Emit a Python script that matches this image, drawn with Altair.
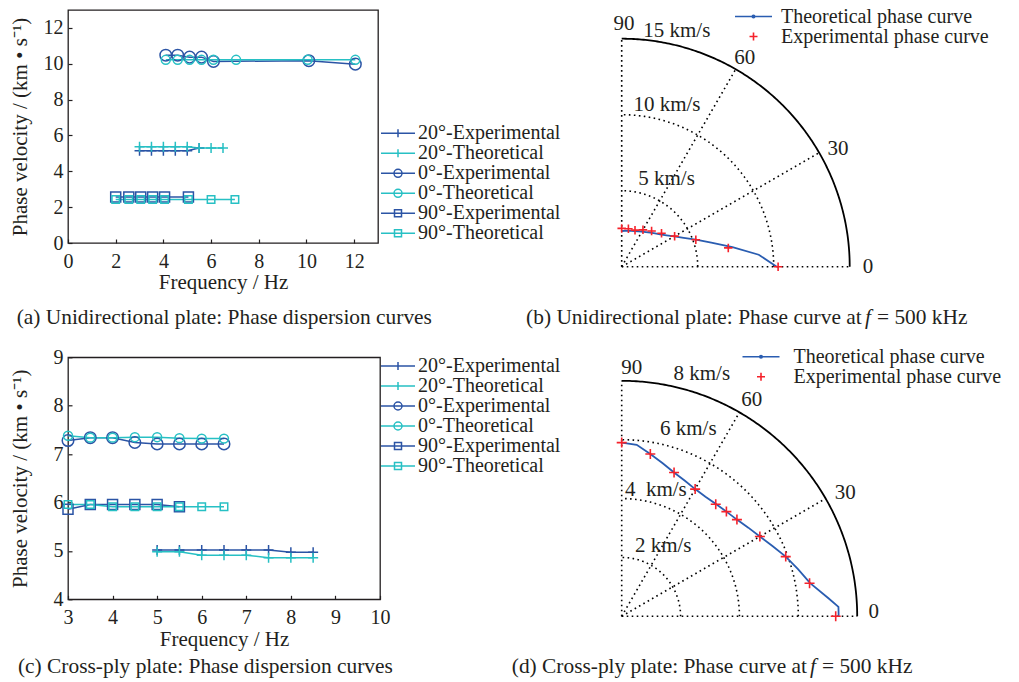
import altair as alt
import pandas as pd

FONT = "Liberation Serif"
TXT = "#231f20"
DARK = "#2b54a5"
CYAN = "#27c0c4"
RED = "#f5222b"
PBLUE = "#2a5db1"

SERIES = ["20°-Experimental", "20°-Theoretical", "0°-Experimental",
          "0°-Theoretical", "90°-Experimental", "90°-Theoretical"]

# ---------------- (a) Unidirectional plate: dispersion ----------------
a_20e_f = [3.0, 3.5, 4.0, 4.5, 5.0, 5.5]
a_20e_v = [5.15, 5.15, 5.15, 5.15, 5.15, 5.3]
a_20t_f = [3.0, 3.5, 4.0, 4.5, 5.0, 5.5, 6.0, 6.5]
a_20t_v = [5.37, 5.37, 5.37, 5.37, 5.37, 5.3, 5.3, 5.3]
a_0e_f = [4.1, 4.6, 5.1, 5.6, 6.1, 10.1, 12.05]
a_0e_v = [10.48, 10.48, 10.37, 10.37, 10.13, 10.17, 9.98]
a_0t_f = [4.1, 4.6, 5.1, 5.6, 6.1, 7.05, 10.05, 12.05]
a_0t_v = [10.22, 10.22, 10.22, 10.22, 10.22, 10.22, 10.22, 10.22]
a_90e_f = [2.0, 2.55, 3.05, 3.55, 4.05, 5.05]
a_90e_v = [2.57, 2.57, 2.57, 2.57, 2.57, 2.57]
a_90t_f = [2.0, 2.55, 3.05, 3.55, 4.05, 5.05, 6.0, 7.0]
a_90t_v = [2.43, 2.43, 2.43, 2.43, 2.43, 2.43, 2.43, 2.43]
a_xticks = [0, 2, 4, 6, 8, 10, 12]
a_yticks = [0, 2, 4, 6, 8, 10, 12]

# ---------------- (c) Cross-ply plate: dispersion ----------------
c_20e_f = [5.0, 5.5, 6.0, 6.5, 7.0, 7.5, 8.0, 8.5]
c_20e_v = [5.02, 5.02, 5.02, 5.02, 5.02, 5.02, 4.97, 4.97]
c_20t_f = [5.0, 5.5, 6.0, 6.5, 7.0, 7.5, 8.0, 8.5]
c_20t_v = [4.98, 4.98, 4.91, 4.91, 4.91, 4.86, 4.86, 4.86]
c_0e_f = [3.0, 3.5, 4.0, 4.5, 5.0, 5.5, 6.0, 6.5]
c_0e_v = [7.28, 7.34, 7.34, 7.24, 7.21, 7.21, 7.21, 7.21]
c_0t_f = [3.0, 3.5, 4.0, 4.5, 5.0, 5.5, 6.0, 6.5]
c_0t_v = [7.38, 7.34, 7.34, 7.35, 7.35, 7.33, 7.32, 7.32]
c_90e_f = [3.0, 3.5, 4.0, 4.5, 5.0, 5.5]
c_90e_v = [5.86, 5.96, 5.96, 5.96, 5.96, 5.91]
c_90t_f = [3.0, 3.5, 4.0, 4.5, 5.0, 5.5, 6.0, 6.5]
c_90t_v = [5.96, 5.96, 5.91, 5.91, 5.91, 5.91, 5.91, 5.91]
c_xticks = [3, 4, 5, 6, 7, 8, 9, 10]
c_yticks = [4, 5, 6, 7, 8, 9]

# ---------------- (b) Unidirectional plate: polar phase curve ----------------
b_theo_t = [0, 5, 10, 15, 20, 25, 30, 35, 40, 45, 50, 55, 60, 65, 70, 75, 80, 85, 90]
b_theo_r = [10.2, 9.05, 7.4, 6.1, 5.2, 4.5, 4.0, 3.6, 3.3, 3.1, 2.92, 2.78, 2.66,
            2.56, 2.49, 2.44, 2.4, 2.37, 2.35]
b_exp_t = [0, 10, 20, 30, 40, 50, 60, 70, 80, 90]
b_exp_r = [10.29, 7.12, 5.19, 4.02, 3.42, 3.06, 2.80, 2.56, 2.54, 2.52]
b_rings = [5, 10]
b_rlab_x = [1.42, 0.77, 1.09]
b_rlab_y = [15.11, 10.23, 5.36]
b_rlab_t = ["15 km/s", "10 km/s", "5 km/s"]
b_alab_x = [0.15, 8.1, 14.23, 16.2]
b_alab_y = [16.0, 13.75, 7.77, 0.0]
b_alab_t = ["90", "60", "30", "0"]

# ---------------- (d) Cross-ply plate: polar phase curve ----------------
d_theo_t = [0, 2.5, 5, 10, 15, 20, 25, 30, 35, 40, 45, 50, 55, 60, 65, 70, 75, 80, 85, 90]
d_theo_r = [7.37, 7.37, 7.05, 6.5, 6.2, 5.93, 5.65, 5.42, 5.25, 5.11, 5.03, 4.98,
            4.96, 4.99, 5.08, 5.2, 5.38, 5.6, 5.85, 5.9]
d_exp_t = [0, 10, 20, 30, 40, 45, 50, 60, 70, 80, 90]
d_exp_r = [7.27, 6.48, 5.93, 5.42, 5.11, 5.03, 4.97, 4.99, 5.20, 5.60, 5.90]
d_rings = [2, 4, 6]
d_rlab_x = [1.76, 1.30, 0.11, 0.45]
d_rlab_y = [8.02, 6.15, 4.08, 2.19]
d_rlab_t = ["8 km/s", "6 km/s", "4\u00a0 km/s", "2 km/s"]
d_alab_x = [0.34, 4.42, 7.59, 8.56]
d_alab_y = [8.45, 7.34, 4.19, 0.15]
d_alab_t = ["90", "60", "30", "0"]

CURVES = ["Theoretical phase curve", "Experimental phase curve"]

# ---------------- styles ----------------
PLUS = "M0,-1V1M-1,0H1"
COLORS = [DARK, CYAN, DARK, CYAN, DARK, CYAN]
MSHAPES = [PLUS, PLUS, "circle", "circle", "square", "square"]
MSIZES = [100, 100, 133, 80, 100, 56]
L_PLUS = "M-3.4,0H3.4M0,-0.8V0.8"
L_CIRC = "M-3.4,0H3.4M-0.8,0A0.8,0.8 0 1,0 0.8,0A0.8,0.8 0 1,0 -0.8,0"
L_SQ = "M-3.4,0H3.4M-0.7,-0.7H0.7V0.7H-0.7Z"
LSHAPES = [L_PLUS, L_PLUS, L_CIRC, L_CIRC, L_SQ, L_SQ]
P_THEO = "M-3.7,0H3.7M-0.25,0A0.25,0.25 0 1,0 0.25,0A0.25,0.25 0 1,0 -0.25,0"
P_EXP = "M0,-0.8V0.8M-0.8,0H0.8"
CAP_FS = 21.4
LEG_FS = 20


def long_df(pairs):
    rows = []
    for s, (fs, vs) in zip(SERIES, pairs):
        for f, v in zip(fs, vs):
            rows.append({"series": s, "f": f, "v": v})
    return pd.DataFrame(rows)


def text_layer(txt, x, y, align="left", style="normal", baseline="alphabetic"):
    return alt.Chart(pd.DataFrame({"t": [txt]})).mark_text(
        font=FONT, fontSize=CAP_FS, color=TXT, align=align, baseline=baseline,
        fontStyle=style).encode(x=alt.value(x), y=alt.value(y), text="t:N")


def dispersion(df, xdom, ydom, xvals, yvals, w, h, caption, cap_x, cap_y, leg_x, leg_y):
    xs = alt.Scale(domain=xdom, nice=False, zero=False)
    ys = alt.Scale(domain=ydom, nice=False, zero=False)
    xax = alt.Axis(values=xvals, title="Frequency / Hz", offset=-4, tickSize=4,
                   domain=False, grid=False, labelPadding=8, format="d",
                   titleX=w / 2, titleY=32.7, titleBaseline="top",
                   labelFlush=False, labelOverlap=False)
    yax = alt.Axis(values=yvals, title="Phase velocity / (km \u2022 s\u207b\u00b9)",
                   offset=-4, tickSize=4, domain=False, grid=False, labelPadding=5,
                   format="d", titleX=-42, titleY=h / 2, titleBaseline="bottom",
                   labelFlush=False, labelOverlap=False)
    X = alt.X("f:Q", scale=xs, axis=xax)
    Y = alt.Y("v:Q", scale=ys, axis=yax)
    base = alt.Chart(df)
    layers = []
    for s, c in zip(SERIES, COLORS):
        layers.append(base.transform_filter(alt.datum.series == s).mark_line(
            strokeWidth=1.5, color=c).encode(X, Y))
    for s, c, shp, sz in zip(SERIES, COLORS, MSHAPES, MSIZES):
        layers.append(base.transform_filter(alt.datum.series == s).mark_point(
            filled=False, shape=shp, size=sz, color=c, strokeWidth=1.5, opacity=1
        ).encode(X, Y))
    leg = alt.Legend(orient="none", legendX=leg_x, legendY=leg_y, title=None,
                     labelFont=FONT, labelFontSize=LEG_FS, labelColor=TXT,
                     symbolSize=100, symbolStrokeWidth=1.5, symbolOpacity=1,
                     rowPadding=0, padding=0, labelOffset=10, labelLimit=400)
    layers.append(base.mark_point(filled=False, opacity=0).encode(
        X, Y,
        color=alt.Color("series:N", scale=alt.Scale(domain=SERIES, range=COLORS), legend=leg),
        shape=alt.Shape("series:N", scale=alt.Scale(domain=SERIES, range=LSHAPES), legend=leg)))
    layers.append(text_layer(caption, cap_x, cap_y))
    return alt.layer(*layers).properties(width=w, height=h)


def polar(theo_t, theo_r, exp_t, exp_r, R, W, H, rings, rlx, rly, rlt, alx, aly, alt_t,
          cap1, cap1_x, f_x, cap3_x, cap_y, leg_x, leg_y, leg_off, plus_size):
    ymax = R * H / W
    xs = alt.Scale(domain=[0, R], nice=False, zero=False)
    ys = alt.Scale(domain=[0, ymax], nice=False, zero=False)

    def X(f):
        return alt.X(f, type="quantitative", scale=xs, axis=None)

    def Y(f):
        return alt.Y(f, type="quantitative", scale=ys, axis=None)

    rad = "PI/180"
    dots = dict(color="black", strokeWidth=1.6, strokeDash=[1.6, 3.4], strokeCap="butt")

    def arc_chart(radii):
        return (alt.Chart(pd.DataFrame({"ring": radii}))
                .transform_calculate(t="sequence(0, 90.25, 0.5)")
                .transform_flatten(["t"])
                .transform_calculate(px=f"datum.ring*cos(datum.t*{rad})",
                                     py=f"datum.ring*sin(datum.t*{rad})"))

    rings_l = arc_chart(rings).mark_line(**dots).encode(X("px"), Y("py"), detail="ring:N", order="t:Q")
    outer = arc_chart([R]).mark_line(color="black", strokeWidth=1.8).encode(
        X("px"), Y("py"), detail="ring:N", order="t:Q")
    spokes = (alt.Chart(pd.DataFrame({"ang": [0, 30, 60, 90]}))
              .transform_calculate(x0="0", y0="0",
                                   x1=f"{R}*cos(datum.ang*{rad})",
                                   y1=f"{R}*sin(datum.ang*{rad})")
              .mark_rule(**dots)
              .encode(X("x0"), Y("y0"), x2="x1:Q", y2="y1:Q"))

    cdf = pd.concat([
        pd.DataFrame({"theta": theo_t, "r": theo_r, "curve": CURVES[0]}),
        pd.DataFrame({"theta": exp_t, "r": exp_r, "curve": CURVES[1]}),
    ], ignore_index=True)
    cbase = alt.Chart(cdf).transform_calculate(
        px=f"datum.r*cos(datum.theta*{rad})", py=f"datum.r*sin(datum.theta*{rad})")
    theo = cbase.transform_filter(alt.datum.curve == CURVES[0]).mark_line(
        color=PBLUE, strokeWidth=1.8).encode(X("px"), Y("py"), order="theta:Q")
    expm = cbase.transform_filter(alt.datum.curve == CURVES[1]).mark_point(
        shape=PLUS, size=plus_size, color=RED, filled=False, strokeWidth=1.6, opacity=1
    ).encode(X("px"), Y("py"))
    leg = alt.Legend(orient="none", legendX=leg_x, legendY=leg_y, title=None,
                     labelFont=FONT, labelFontSize=LEG_FS, labelColor=TXT,
                     symbolSize=100, symbolStrokeWidth=1.6, symbolOpacity=1,
                     rowPadding=0, padding=0, labelOffset=leg_off, labelLimit=400)
    legl = cbase.mark_point(filled=False, opacity=0).encode(
        X("px"), Y("py"),
        color=alt.Color("curve:N", scale=alt.Scale(domain=CURVES, range=[PBLUE, RED]), legend=leg),
        shape=alt.Shape("curve:N", scale=alt.Scale(domain=CURVES, range=[P_THEO, P_EXP]), legend=leg))

    rl = alt.Chart(pd.DataFrame({"x": rlx, "y": rly, "t": rlt})).mark_text(
        font=FONT, fontSize=21, color=TXT, align="left", baseline="alphabetic"
    ).encode(X("x"), Y("y"), text="t:N")
    al = alt.Chart(pd.DataFrame({"x": alx, "y": aly, "t": alt_t})).mark_text(
        font=FONT, fontSize=21, color=TXT, align="center", baseline="middle"
    ).encode(X("x"), Y("y"), text="t:N")

    caps = [text_layer(cap1, cap1_x, cap_y, align="right"),
            text_layer("f", f_x, cap_y, style="italic"),
            text_layer("= 500 kHz", cap3_x, cap_y)]
    return alt.layer(rings_l, spokes, outer, theo, expm, legl, rl, al, *caps).properties(
        width=W, height=H, view=alt.ViewBackground(strokeOpacity=0))


df_a = long_df([(a_20e_f, a_20e_v), (a_20t_f, a_20t_v), (a_0e_f, a_0e_v),
                (a_0t_f, a_0t_v), (a_90e_f, a_90e_v), (a_90t_f, a_90t_v)])
df_c = long_df([(c_20e_f, c_20e_v), (c_20t_f, c_20t_v), (c_0e_f, c_0e_v),
                (c_0t_f, c_0t_v), (c_90e_f, c_90e_v), (c_90t_f, c_90t_v)])

pa = dispersion(df_a, [0, 13], [0, 13], a_xticks, a_yticks, 310, 233,
                "(a) Unidirectional plate: Phase dispersion curves", -51.3, 314.3, 320, 113.3)
pc = dispersion(df_c, [3, 10], [4, 9], c_xticks, c_yticks, 312, 242,
                "(c) Cross-ply plate: Phase dispersion curves", -50, 316, 320, -1.3)
pb = polar(b_theo_t, b_theo_r, b_exp_t, b_exp_r, 15, 228, 256.7, b_rings,
           b_rlab_x, b_rlab_y, b_rlab_t, b_alab_x, b_alab_y, b_alab_t,
           "(b) Unidirectional plate: Phase curve at", 240, 243.3, 255.3, 314.3,
           121.8, -3.5, 17.5, 72)
pd_ = polar(d_theo_t, d_theo_r, d_exp_t, d_exp_r, 8, 235.5, 259, d_rings,
            d_rlab_x, d_rlab_y, d_rlab_t, d_alab_x, d_alab_y, d_alab_t,
            "(d) Cross-ply plate: Phase curve at", 185.3, 188.3, 200.3, 316,
            129.3, -10.5, 22.5, 100)

chart = alt.concat(pa, pb, pc, pd_, columns=2, spacing={"row": 90.3, "column": 241.7},
                   bounds="flush").resolve_scale(
    color="independent", shape="independent"
).resolve_legend(
    color="independent", shape="independent"
).properties(
    autosize=alt.AutoSizeParams(type="none"),
    padding={"left": 68, "top": 10, "right": 951, "bottom": 672},
    background="white",
).configure_axis(
    labelFont=FONT, labelFontSize=20, labelColor=TXT,
    titleFont=FONT, titleFontSize=21, titleFontWeight="normal", titleColor=TXT,
    tickColor=TXT, tickWidth=1.2,
).configure_view(stroke=TXT, strokeWidth=1.3)

chart.save("out.html", embed_options={"renderer": "svg", "actions": False})
